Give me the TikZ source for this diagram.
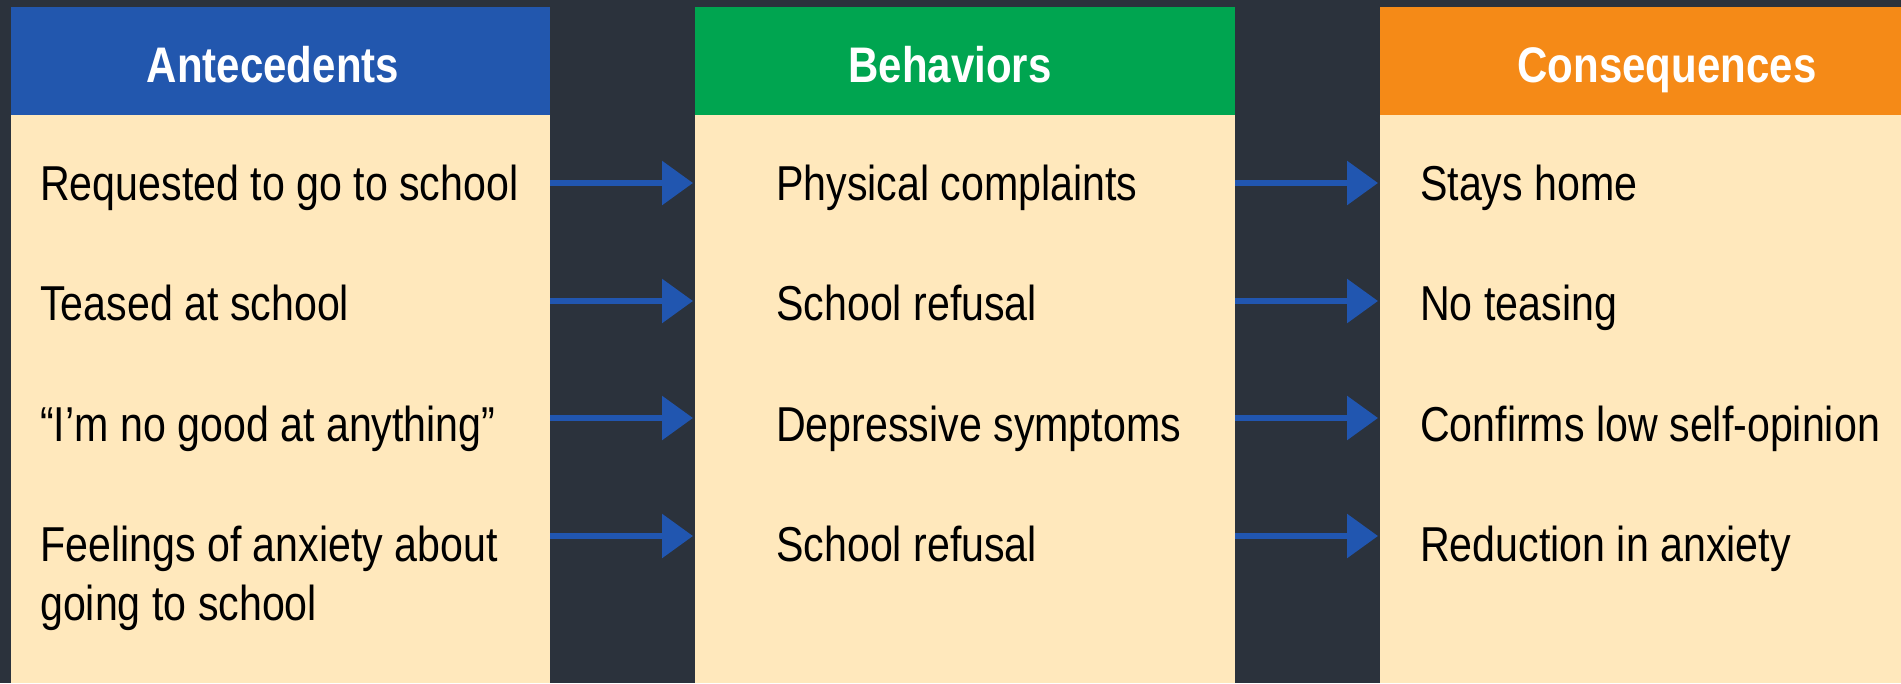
\documentclass[tikz,border=0pt]{standalone}
\usepackage{fontspec}
\setmainfont{Liberation Sans}[FakeStretch=0.84]
\usetikzlibrary{arrows.meta}
\definecolor{bgdark}{HTML}{2B323C}
\definecolor{hblue}{HTML}{2257AE}
\definecolor{hgreen}{HTML}{00A550}
\definecolor{horange}{HTML}{F58A17}
\definecolor{cream}{HTML}{FFE8BC}
\definecolor{arrblue}{HTML}{2156B0}
\tikzset{
  panel/.style={fill=cream, draw=none, inner sep=0pt, outer sep=0pt, anchor=north west, minimum height=568pt},
  hband/.style={draw=none, inner sep=0pt, outer sep=0pt, anchor=north west, minimum height=108pt},
  htext/.style={text=white, font=\fontsize{50}{60}\selectfont\bfseries, anchor=base, inner sep=0pt},
  item/.style={text=black, font=\fontsize{49}{59}\selectfont, anchor=base west, inner sep=0pt, align=left},
  flow/.style={draw=arrblue, line width=6pt, -{Triangle[length=31pt,width=43pt]}, shorten >=2pt}
}
\begin{document}
\begin{tikzpicture}[x=1pt,y=-1pt]
\fill[bgdark] (0,0) rectangle (1901,683);
\useasboundingbox (0,0) rectangle (1901,683);
% column bodies
\node[panel, minimum width=539pt] (A) at (11,115) {};
\node[panel, minimum width=540pt] (B) at (695,115) {};
\node[panel, minimum width=521pt] (C) at (1380,115) {};
% header bands
\node[hband, fill=hblue, minimum width=539pt] (Ah) at (11,7) {};
\node[hband, fill=hgreen, minimum width=540pt] (Bh) at (695,7) {};
\node[hband, fill=horange, minimum width=521pt] (Ch) at (1380,7) {};
% header texts
\node[htext] (At) at (273,82) {Antecedents};
\node[htext] (Bt) at (950,82) {Behaviors};
\node[htext] (Ct) at (1667,82) {Consequences};
% items
\node[item] (a1) at (40,200) {Requested to go to school};
\node[item] (a2) at (40,320) {Teased at school};
\node[item] (a3) at (40,441) {“I’m no good at anything”};
\node[item] (a4) at (40,620) {Feelings of anxiety about\\going to school};
\node[item] (b1) at (776,200) {Physical complaints};
\node[item] (b2) at (776,320) {School refusal};
\node[item] (b3) at (776,441) {Depressive symptoms};
\node[item] (b4) at (776,561) {School refusal};
\node[item] (c1) at (1420,200) {Stays home};
\node[item] (c2) at (1420,320) {No teasing};
\node[item] (c3) at (1420,441) {Confirms low self-opinion};
\node[item] (c4) at (1420,561) {Reduction in anxiety};
% arrow rows
\coordinate (r1) at (0,183);
\coordinate (r2) at (0,301);
\coordinate (r3) at (0,418);
\coordinate (r4) at (0,536);
\foreach \r in {r1,r2,r3,r4}{
  \draw[flow] (\r -| A.east) -- (\r -| B.west);
  \draw[flow] (\r -| B.east) -- (\r -| C.west);
}
\end{tikzpicture}
\end{document}
